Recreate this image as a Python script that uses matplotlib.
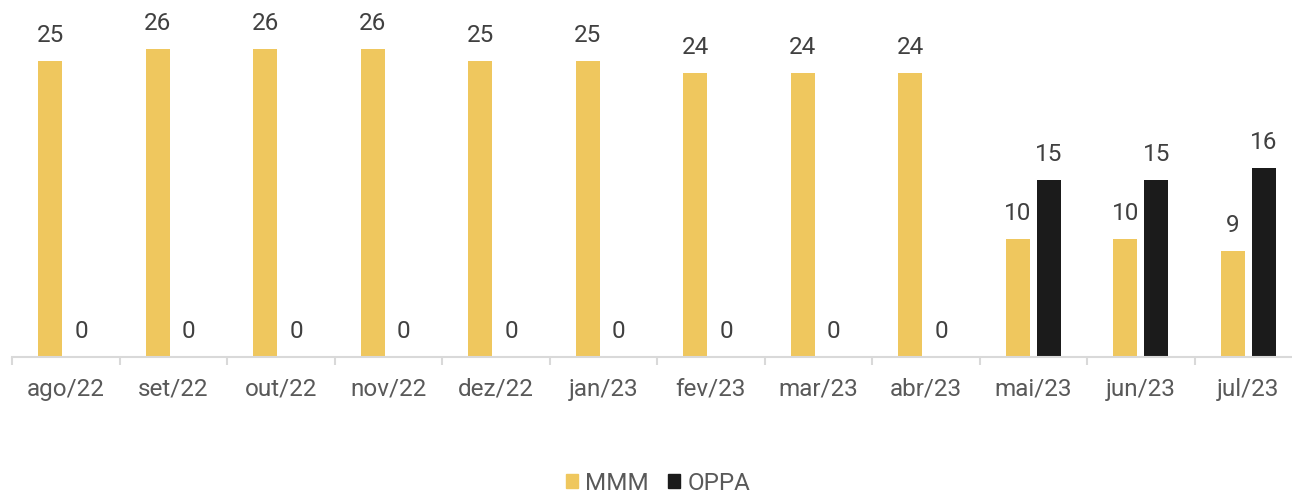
import numpy as np
import matplotlib.pyplot as plt
from matplotlib.patches import Patch

plt.rcParams['font.family'] = ['Roboto', 'DejaVu Sans']

meses = ['ago/22', 'set/22', 'out/22', 'nov/22', 'dez/22', 'jan/23',
         'fev/23', 'mar/23', 'abr/23', 'mai/23', 'jun/23', 'jul/23']
mmm = [25, 26, 26, 26, 25, 25, 24, 24, 24, 10, 10, 9]
oppa = [0, 0, 0, 0, 0, 0, 0, 0, 0, 15, 15, 16]

cor_mmm = '#EFC75E'
cor_oppa = '#1B1B1B'

fig = plt.figure(figsize=(12.92, 4.92), dpi=100)
# eixo passa um pouco da borda direita, como no original
ax = fig.add_axes([12 / 1292, (492 - 357) / 492, 1290 / 1292, 355 / 492])

x = np.arange(len(meses))
w = 0.223
off = 0.145
b1 = ax.bar(x - off, mmm, w, color=cor_mmm, label='MMM')
b2 = ax.bar(x + off, oppa, w, color=cor_oppa, label='OPPA')

for bars, vals in [(b1, mmm), (b2, oppa)]:
    for b, v in zip(bars, vals):
        ax.annotate(str(v), (b.get_x() + b.get_width() / 2, v),
                    xytext=(0, 10), textcoords='offset points',
                    ha='center', va='bottom', fontsize=17.5, color='#404040')

ax.set_xlim(-0.5, len(meses) - 0.5)
ax.set_ylim(0, 30)
for s in ['top', 'right', 'left']:
    ax.spines[s].set_visible(False)
ax.spines['bottom'].set_color('#D9D9D9')
ax.spines['bottom'].set_linewidth(1.5)
ax.set_yticks([])

ax.set_xticks(x)
ax.set_xticklabels(meses, fontsize=17.5, color='#595959')
ax.tick_params(axis='x', which='major', length=0, pad=15)
ax.set_xticks(np.arange(-0.5, len(meses)), minor=True)
ax.tick_params(axis='x', which='minor', length=6, width=1.5, color='#D9D9D9', direction='out')

handles = [Patch(color=cor_mmm, label='MMM'), Patch(color=cor_oppa, label='OPPA')]
fig.legend(handles=handles, loc='center', bbox_to_anchor=(658 / 1292, 1 - 483 / 492),
           ncol=2, frameon=False, fontsize=17.5, handlelength=0.5, handleheight=0.5,
           handletextpad=0.3, columnspacing=0.8, labelcolor='#595959')

fig.savefig('out.png', dpi=100)
